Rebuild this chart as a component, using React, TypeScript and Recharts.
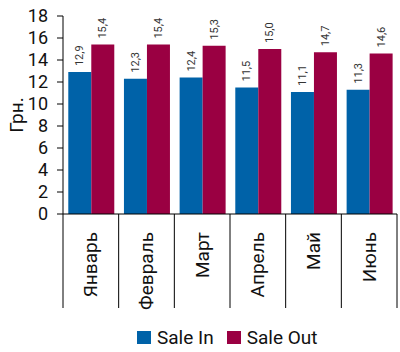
import React from "react";
import { BarChart, Bar, XAxis, YAxis, LabelList } from "recharts";

const months = ["Январь", "Февраль", "Март", "Апрель", "Май", "Июнь"];
const saleIn = [12.9, 12.3, 12.4, 11.5, 11.1, 11.3];
const saleOut = [15.4, 15.4, 15.3, 15.0, 14.7, 14.6];
const yTicks = [0, 2, 4, 6, 8, 10, 12, 14, 16, 18];
const seriesNames = ["Sale In", "Sale Out"];

const BLUE = "#0062a8";
const RED = "#9a0042";
const FONT = "Roboto, 'Noto Sans', sans-serif";

const data = months.map((m, i) => ({ month: m, saleIn: saleIn[i], saleOut: saleOut[i] }));

const fmt = (v: number) => v.toFixed(1).replace(".", ",");

const HALF_BAND = 334 / 6 / 2;

function MonthTick(props: any) {
  const { x, y, payload, index } = props;
  return (
    <g>
      <line x1={x - HALF_BAND} y1={y} x2={x - HALF_BAND} y2={y + 94} stroke="#000" strokeWidth={1} />
      {index === months.length - 1 && (
        <line x1={x + HALF_BAND} y1={y} x2={x + HALF_BAND} y2={y + 94} stroke="#000" strokeWidth={1} />
      )}
      <text
        x={x}
        y={y + 18}
        transform={`rotate(-90 ${x} ${y + 18})`}
        textAnchor="end"
        dominantBaseline="central"
        fontSize={19}
        fontFamily={FONT}
        fill="#111"
      >
        {payload.value}
      </text>
    </g>
  );
}

function ValueLabel(props: any) {
  const { x, y, width, value } = props;
  const cx = x + width / 2;
  const cy = y - 6;
  return (
    <text
      x={cx}
      y={cy}
      transform={`rotate(-90 ${cx} ${cy})`}
      textAnchor="start"
      dominantBaseline="central"
      fontSize={11}
      fontFamily={FONT}
      fill="#333"
    >
      {fmt(value)}
    </text>
  );
}

export default function App() {
  return (
    <div style={{ position: "absolute", left: 0, top: 0, width: 400, height: 352, background: "#fff" }}>
      <BarChart
        width={400}
        height={352}
        data={data}
        margin={{ top: 16, right: 3, left: 0, bottom: 38 }}
        barCategoryGap="9.5%"
        barGap={0}
      >
        <XAxis
          dataKey="month"
          height={100}
          tickSize={0}
          tickMargin={0}
          tickLine={false}
          axisLine={{ stroke: "#000" }}
          tick={<MonthTick />}
          interval={0}
        />
        <YAxis
          width={63}
          domain={[0, 18]}
          ticks={yTicks}
          interval={0}
          tickSize={6}
          tickMargin={9}
          axisLine={{ stroke: "#000" }}
          tickLine={{ stroke: "#000" }}
          tick={{ fontSize: 18, fontFamily: FONT, fill: "#111" }}
          label={() => (
            <text
              x={16}
              y={115}
              transform="rotate(-90 16 115)"
              textAnchor="middle"
              dominantBaseline="central"
              fontSize={19}
              fontFamily={FONT}
              fill="#111"
            >
              Грн.
            </text>
          )}
        />
        <Bar dataKey="saleIn" name={seriesNames[0]} fill={BLUE} isAnimationActive={false}>
          <LabelList dataKey="saleIn" content={<ValueLabel />} />
        </Bar>
        <Bar dataKey="saleOut" name={seriesNames[1]} fill={RED} isAnimationActive={false}>
          <LabelList dataKey="saleOut" content={<ValueLabel />} />
        </Bar>
      </BarChart>
      <div
        style={{
          position: "absolute",
          top: 326,
          left: 137,
          display: "flex",
          alignItems: "center",
          fontFamily: FONT,
          fontSize: 19,
          color: "#111",
        }}
      >
        {[BLUE, RED].map((color, i) => (
          <span key={seriesNames[i]} style={{ display: "flex", alignItems: "center", marginLeft: i ? 13 : 0 }}>
            <span style={{ display: "inline-block", width: 14, height: 13, background: color, marginRight: 6 }} />
            {seriesNames[i]}
          </span>
        ))}
      </div>
    </div>
  );
}
